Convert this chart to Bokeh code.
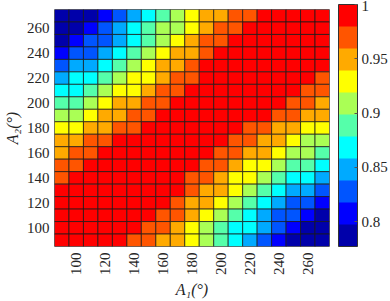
import numpy as np
from bokeh.plotting import figure
from bokeh.models import (LinearColorMapper, ColorBar, FixedTicker,
                          CustomJSTickFormatter, ColumnDataSource)
from bokeh.embed import file_html
from bokeh.resources import INLINE

# ---------------- data ----------------
a1 = [90, 100, 110, 120, 130, 140, 150, 160, 170, 180,
      190, 200, 210, 220, 230, 240, 250, 260, 270]
# rows listed from top (A2 = 270) to bottom (A2 = 90)
a2 = [270, 260, 250, 240, 230, 220, 210, 200, 190, 180,
      170, 160, 150, 140, 130, 120, 110, 100, 90]

ratio = [
    [.787, .787, .787, .807, .828, .848, .868, .889, .909, .929, .950, .950, .970, .970, .990, .990, .990, .990, .990],
    [.787, .787, .807, .828, .848, .868, .889, .909, .909, .929, .950, .970, .970, .990, .990, .990, .990, .990, .990],
    [.787, .807, .828, .828, .848, .868, .889, .909, .929, .950, .970, .970, .990, .990, .990, .990, .990, .990, .990],
    [.807, .828, .828, .848, .868, .889, .909, .929, .950, .950, .970, .990, .990, .990, .990, .990, .990, .990, .990],
    [.828, .848, .848, .868, .889, .909, .929, .950, .950, .970, .990, .990, .990, .990, .990, .990, .990, .990, .990],
    [.848, .868, .868, .889, .909, .929, .929, .950, .970, .970, .990, .990, .990, .990, .990, .990, .990, .990, .970],
    [.868, .868, .889, .909, .929, .929, .950, .970, .970, .990, .990, .990, .990, .990, .990, .990, .990, .970, .970],
    [.889, .889, .909, .929, .950, .950, .970, .970, .990, .990, .990, .990, .990, .990, .990, .990, .970, .970, .950],
    [.909, .909, .929, .950, .950, .970, .970, .990, .990, .990, .990, .990, .990, .990, .990, .970, .970, .950, .950],
    [.929, .929, .950, .950, .970, .970, .990, .990, .990, .990, .990, .990, .990, .970, .970, .950, .950, .929, .929],
    [.950, .950, .970, .970, .990, .990, .990, .990, .990, .990, .990, .990, .970, .970, .950, .950, .929, .909, .909],
    [.950, .970, .970, .990, .990, .990, .990, .990, .990, .990, .990, .970, .970, .950, .950, .929, .909, .909, .889],
    [.970, .970, .990, .990, .990, .990, .990, .990, .990, .990, .970, .970, .950, .929, .929, .909, .889, .889, .868],
    [.970, .990, .990, .990, .990, .990, .990, .990, .990, .970, .970, .950, .929, .929, .909, .889, .868, .868, .848],
    [.990, .990, .990, .990, .990, .990, .990, .990, .990, .970, .950, .950, .929, .909, .889, .868, .848, .848, .828],
    [.990, .990, .990, .990, .990, .990, .990, .990, .970, .950, .950, .929, .909, .889, .868, .848, .828, .828, .807],
    [.990, .990, .990, .990, .990, .990, .990, .970, .970, .950, .929, .909, .889, .868, .848, .828, .828, .807, .787],
    [.990, .990, .990, .990, .990, .990, .970, .970, .950, .929, .909, .889, .868, .868, .848, .828, .807, .787, .787],
    [.990, .990, .990, .990, .990, .970, .970, .950, .950, .929, .909, .889, .868, .848, .828, .807, .787, .787, .787],
]

x_ticks = [100, 120, 140, 160, 180, 200, 220, 240, 260]
y_ticks = [100, 120, 140, 160, 180, 200, 220, 240, 260]
cbar_ticks = [0.8, 0.85, 0.9, 0.95, 1.0]
c_low, c_high = 0.777, 1.0
x_title = "A₁(°)"
y_title = "A₂(°)"

palette = ["#0000AA", "#0000FF", "#0055FF", "#00AAFF", "#00FFFF", "#55FFAA",
           "#AAFF55", "#FFFF00", "#FFAA00", "#FF5500", "#FF0000"]

# ---------------- build ----------------
xs, ys, vs = [], [], []
for j, yv in enumerate(a2):
    for i, xv in enumerate(a1):
        xs.append(xv)
        ys.append(yv)
        vs.append(ratio[j][i])
src = ColumnDataSource(dict(x=xs, y=ys, v=vs))
mapper = LinearColorMapper(palette=palette, low=c_low, high=c_high)

FONT = "Liberation Serif"

p = figure(width=390, height=301, x_range=(85, 275), y_range=(85, 275),
           output_backend="svg", toolbar_location=None,
           min_border_left=52, min_border_right=61, min_border_top=9,
           min_border_bottom=50)

p.rect(x="x", y="y", width=10, height=10, source=src,
       fill_color={"field": "v", "transform": mapper},
       line_color="#1a1a1a", line_alpha=0.75, line_width=1)

p.grid.grid_line_color = None
p.outline_line_color = "#999999"

for ax, tk in ((p.xaxis, x_ticks), (p.yaxis, y_ticks)):
    ax.ticker = FixedTicker(ticks=tk)
    ax.major_tick_in = 0
    ax.major_tick_out = 0
    ax.minor_tick_in = 0
    ax.minor_tick_out = 0
    ax.axis_line_color = None
    ax.major_label_text_font = FONT
    ax.major_label_text_font_size = "15px"
    ax.major_label_text_color = "#262626"
    ax.axis_label_text_font = FONT
    ax.axis_label_text_font_size = "16px"
    ax.axis_label_text_font_style = "italic"
    ax.axis_label_text_color = "#262626"
    ax.axis_label_standoff = 3

p.xaxis.axis_label = x_title
p.yaxis.axis_label = y_title
p.xaxis.major_label_orientation = np.pi / 2
p.xaxis.major_label_standoff = 6
p.yaxis.major_label_standoff = 5

cb = ColorBar(color_mapper=mapper, location=(276, -8), width=19, height=242,
              padding=8, margin=0,
              ticker=FixedTicker(ticks=cbar_ticks),
              formatter=CustomJSTickFormatter(code="return String(Math.round(tick*100)/100)"),
              major_label_text_font=FONT, major_label_text_font_size="15px",
              major_label_text_color="#262626",
              major_tick_in=3, major_tick_out=0, major_tick_line_color="#555555",
              minor_tick_line_color=None,
              bar_line_color="#333333", label_standoff=4,
              background_fill_alpha=0, border_line_color=None)
p.add_layout(cb)

open("out.html", "w").write(file_html(p, INLINE))
